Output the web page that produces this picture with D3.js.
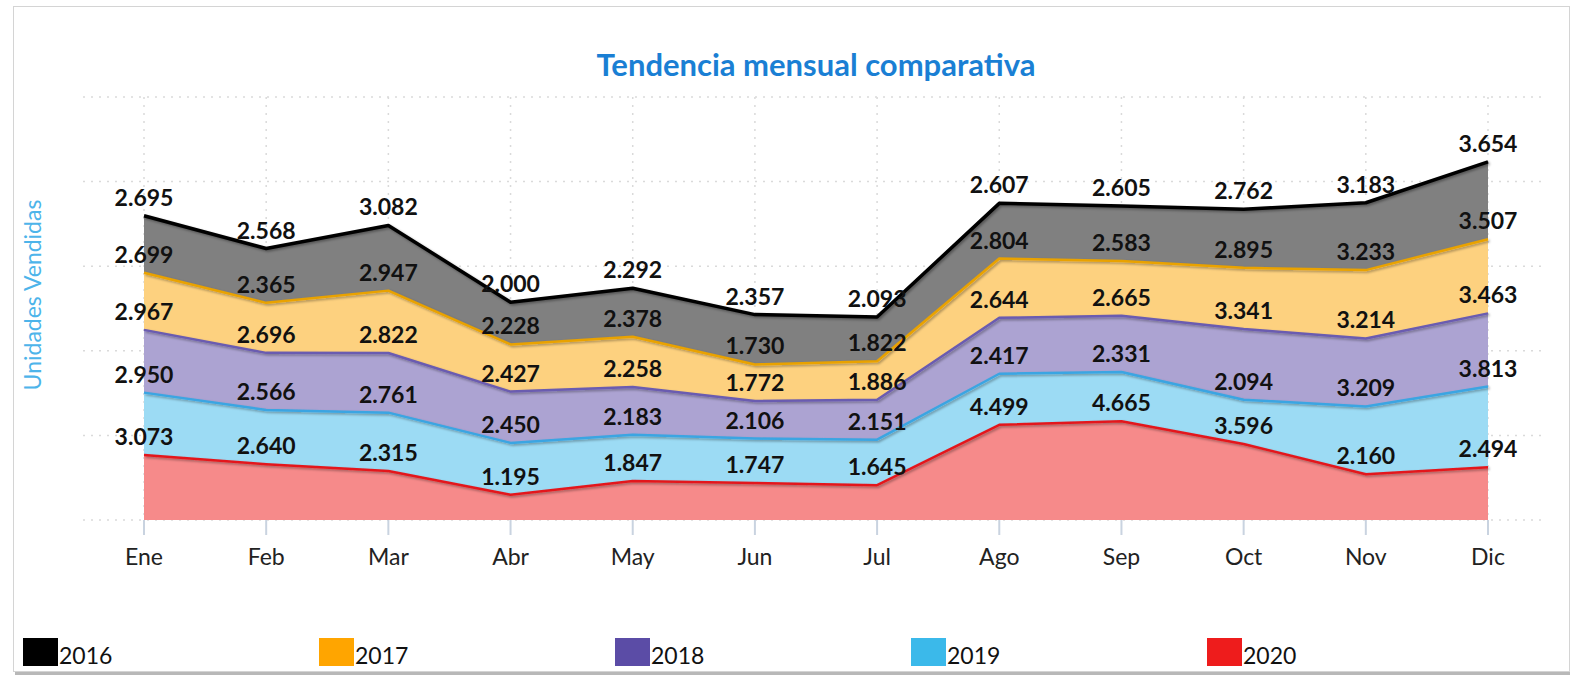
<!DOCTYPE html>
<html>
<head>
<meta charset="utf-8">
<script src="https://cdn.jsdelivr.net/npm/d3@7"></script>
<style>
  html, body { margin: 0; padding: 0; background: #fff; }
  svg { display: block; font-family: Lato, "Open Sans", sans-serif; }
</style>
</head>
<body>
<svg id="chart" width="1570" height="678"></svg>
<script>
// months on the x axis
const months = ['Ene', 'Feb', 'Mar', 'Abr', 'May', 'Jun', 'Jul', 'Ago', 'Sep', 'Oct', 'Nov', 'Dic'];

// units sold per year
const v2016 = [2695, 2568, 3082, 2000, 2292, 2357, 2093, 2607, 2605, 2762, 3183, 3654];
const v2017 = [2699, 2365, 2947, 2228, 2378, 1730, 1822, 2804, 2583, 2895, 3233, 3507];
const v2018 = [2967, 2696, 2822, 2427, 2258, 1772, 1886, 2644, 2665, 3341, 3214, 3463];
const v2019 = [2950, 2566, 2761, 2450, 2183, 2106, 2151, 2417, 2331, 2094, 3209, 3813];
const v2020 = [3073, 2640, 2315, 1195, 1847, 1747, 1645, 4499, 4665, 3596, 2160, 2494];

const yTicks = [0, 4000, 8000, 12000, 16000, 20000];

// series, bottom of the stack first
const series = [
    { key: '2020', values: v2020, color: '#ee1c1c', fill: '#f68a8a', line: '#e3191c', width: 2.5 },
    { key: '2019', values: v2019, color: '#3bb9ea', fill: '#9cdbf4', line: '#3ba5e2', width: 2.5 },
    { key: '2018', values: v2018, color: '#5b4ca6', fill: '#aca3d2', line: '#6b5bb0', width: 2.5 },
    { key: '2017', values: v2017, color: '#ffa500', fill: '#fdd17f', line: '#e9a200', width: 2.5 },
    { key: '2016', values: v2016, color: '#000000', fill: '#808080', line: '#000000', width: 3.5 }
];
const legendOrder = ['2016', '2017', '2018', '2019', '2020'];

const table = months.map((m, i) => {
    const row = { month: m };
    series.forEach(s => { row[s.key] = s.values[i]; });
    return row;
});

const svg = d3.select('#chart');

// drop shadow for the lines
const defs = svg.append('defs');
const filter = defs.append('filter').attr('id', 'shadow')
    .attr('x', '-5%').attr('y', '-20%').attr('width', '110%').attr('height', '140%');
filter.append('feDropShadow')
    .attr('dx', 1.5).attr('dy', 1.5).attr('stdDeviation', 1.2)
    .attr('flood-color', '#000').attr('flood-opacity', 0.35);

// frame
svg.append('rect')
    .attr('x', 15).attr('y', 9).attr('width', 1556).attr('height', 666)
    .attr('fill', '#b8b8b8');
svg.append('rect')
    .attr('x', 13.5).attr('y', 6.5).attr('width', 1556).attr('height', 665)
    .attr('fill', '#fff').attr('stroke', '#d4d4d4');

// Scales
const x = d3.scalePoint().domain(months).range([144, 1488]);
const y = d3.scaleLinear().domain([0, 20000]).range([520, 97]);

// grid
const grid = svg.append('g').attr('stroke', '#dadada').attr('stroke-width', 1.5)
    .attr('stroke-dasharray', '2,6');
grid.selectAll('.hgrid').data(yTicks).enter().append('line')
    .attr('x1', 83).attr('x2', 1547)
    .attr('y1', d => y(d)).attr('y2', d => y(d));
grid.selectAll('.vgrid').data(months).enter().append('line')
    .attr('x1', d => x(d)).attr('x2', d => x(d))
    .attr('y1', y(20000)).attr('y2', y(0));

// stack
const stack = d3.stack().keys(series.map(s => s.key));
const stacked = stack(table);

const area = d3.area()
    .x(d => x(d.data.month))
    .y0(d => y(d[0]))
    .y1(d => y(d[1]));
const topLine = d3.line()
    .x(d => x(d.data.month))
    .y(d => y(d[1]));

const layers = svg.append('g');
stacked.forEach((layer, i) => {
    layers.append('path')
        .datum(layer)
        .attr('fill', series[i].fill)
        .attr('d', area);
});
stacked.forEach((layer, i) => {
    layers.append('path')
        .datum(layer)
        .attr('fill', 'none')
        .attr('stroke', series[i].line)
        .attr('stroke-width', series[i].width)
        .attr('stroke-linejoin', 'round')
        .attr('filter', 'url(#shadow)')
        .attr('d', topLine);
});

// x axis ticks and labels
const xAxis = svg.append('g');
xAxis.selectAll('.tick').data(months).enter().append('line')
    .attr('x1', d => x(d)).attr('x2', d => x(d))
    .attr('y1', y(0)).attr('y2', y(0) + 15)
    .attr('stroke', '#c9d3e0').attr('stroke-width', 2);
xAxis.selectAll('.xlabel').data(months).enter().append('text')
    .attr('x', d => x(d)).attr('y', 565)
    .attr('text-anchor', 'middle')
    .attr('font-size', 23)
    .attr('fill', '#222')
    .text(d => d);

// value labels
const fmt = v => d3.format(',')(v).replace(/,/g, '.');
const labels = svg.append('g');
stacked.forEach(layer => {
    labels.selectAll(null).data(layer).enter().append('text')
        .attr('x', d => x(d.data.month))
        .attr('y', d => y(d[1]) - 10)
        .attr('text-anchor', 'middle')
        .attr('font-size', 23)
        .attr('font-weight', 'bold')
        .attr('fill', '#111')
        .text(d => fmt(d[1] - d[0]));
});

// title
svg.append('text')
    .attr('x', 816).attr('y', 76)
    .attr('text-anchor', 'middle')
    .attr('font-size', 31)
    .attr('font-weight', 'bold')
    .attr('fill', '#1a7fd4')
    .text('Tendencia mensual comparativa');

// y axis title
svg.append('text')
    .attr('transform', 'translate(41,295) rotate(-90)')
    .attr('text-anchor', 'middle')
    .attr('font-size', 23)
    .attr('fill', '#4db4ea')
    .text('Unidades Vendidas');

// legend
const legend = svg.append('g');
legendOrder.forEach((k, i) => {
    const s = series.find(d => d.key === k);
    const g = legend.append('g').attr('transform', `translate(${23 + i * 296},638)`);
    g.append('rect').attr('width', 35).attr('height', 28).attr('fill', s.color);
    g.append('text').attr('x', 36).attr('y', 26)
        .attr('font-size', 23).attr('fill', '#111')
        .text(k);
});
</script>
</body>
</html>
